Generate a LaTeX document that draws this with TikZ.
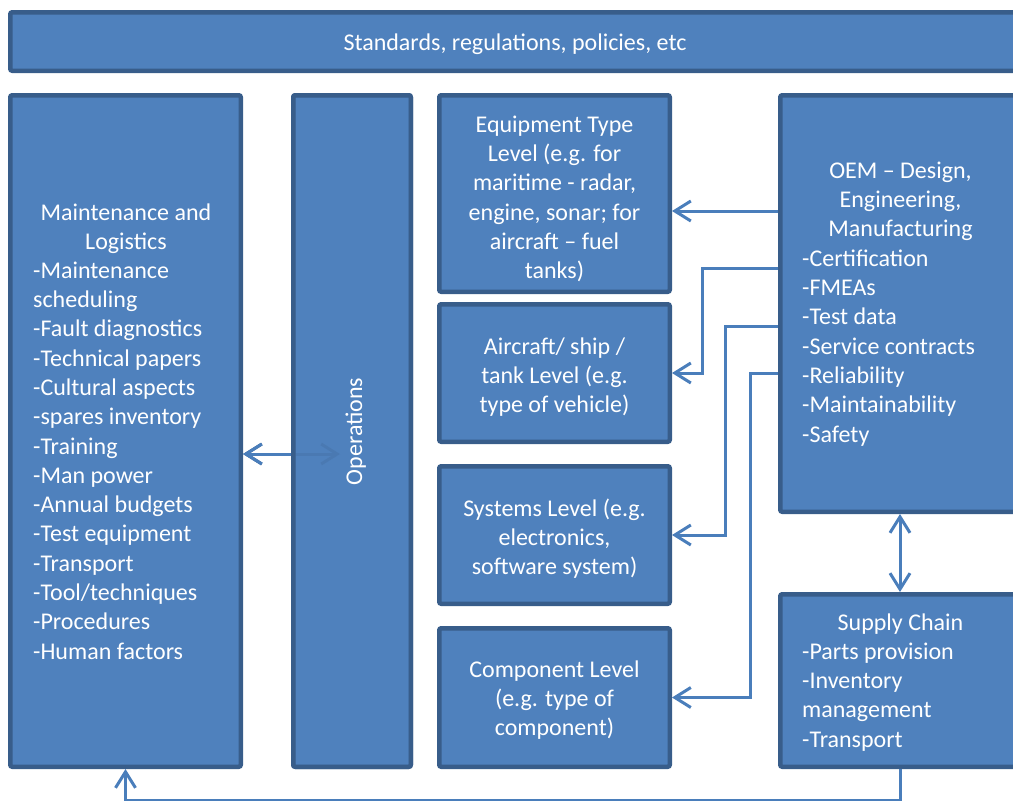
\documentclass[tikz,border=0pt]{standalone}
\usepackage{fontspec}
\setmainfont{Carlito}
\usetikzlibrary{arrows.meta}
\definecolor{boxfill}{HTML}{4F81BD}
\definecolor{boxline}{HTML}{385D8A}
\definecolor{arrowc}{HTML}{4A7EBB}
\begin{document}
\begin{tikzpicture}[x=1pt,y=-1pt,
  box/.style={draw=boxline, fill=boxfill, line width=4.5pt, rounded corners=2pt, inner sep=0pt},
  txt/.style={text=white, inner sep=0pt, font=\fontsize{24}{29.3}\selectfont},
  conn/.style={draw=arrowc, line width=3pt},
  tip/.style={-{Straight Barb[length=16pt,width=20pt]}},
  ltip/.style={{Straight Barb[length=16pt,width=20pt]}-},
  dtip/.style={{Straight Barb[length=16pt,width=20pt]}-{Straight Barb[length=16pt,width=20pt]}}
]
\useasboundingbox (0,0) rectangle (1013,801);

% boxes
\node[box, minimum width=1009.5pt, minimum height=58.5pt] (top) at (515,41.5) {};
\node[box, minimum width=230.5pt, minimum height=671.5pt] (maint) at (125.5,431) {};
\node[box, outer sep=0pt, minimum width=117.5pt, minimum height=671.5pt] (ops) at (352,431) {};
\coordinate (opsin) at (340,454);
\draw[conn, draw=boxline, dtip] (maint.east |- opsin) -- (opsin);
\path[draw=boxline, fill=boxfill, fill opacity=0.8, line width=4.5pt, rounded corners=2pt] (ops.south west) rectangle (ops.north east);
\draw[conn, ltip] (maint.east |- opsin) -- ([xshift=-2.25pt]ops.west |- opsin);
\node[box, minimum width=230.5pt, minimum height=196.5pt] (equip) at (554.5,193.5) {};
\node[box, minimum width=230.5pt, minimum height=137.5pt] (aircraft) at (554.5,373) {};
\node[box, minimum width=230.5pt, minimum height=137.5pt] (systems) at (554.5,535) {};
\node[box, minimum width=230.5pt, minimum height=138.5pt] (component) at (554.5,697.5) {};
\node[box, minimum width=239.5pt, minimum height=416.5pt] (oem) at (900,303.5) {};
\node[box, minimum width=239.5pt, minimum height=172.5pt] (supply) at (900,680.5) {};

% texts
\node[txt, anchor=base] (toptxt) at (515,50) {Standards, regulations, policies, etc};
\node[txt, anchor=north, align=center] (mainthead) at (126,199.5) {\strut Maintenance and\\Logistics};
\node[txt, anchor=north west, align=left] (maintlist) at (33,257.5) {\strut -Maintenance\\scheduling\\-Fault diagnostics\\-Technical papers\\-Cultural aspects\\-spares inventory\\-Training\\-Man power\\-Annual budgets\\-Test equipment\\-Transport\\-Tool/techniques\\-Procedures\\-Human factors};
\node[txt, anchor=base, rotate=90] (opstxt) at (362,431.5) {Operations};
\node[txt, anchor=north, align=center] (equiptxt) at (554.5,111.5) {\strut Equipment Type\\Level (e.g. for\\maritime - radar,\\engine, sonar; for\\aircraft – fuel\\tanks)};
\node[txt, anchor=north, align=center] (aircrafttxt) at (554.5,333.5) {\strut Aircraft/ ship /\\tank Level (e.g.\\type of vehicle)};
\node[txt, anchor=north, align=center] (systemstxt) at (554.5,495.5) {\strut Systems Level (e.g.\\electronics,\\software system)};
\node[txt, anchor=north, align=center] (componenttxt) at (554.5,656.5) {\strut Component Level\\(e.g. type of\\component)};
\node[txt, anchor=north, align=center] (oemhead) at (900.5,157.5) {\strut OEM – Design,\\Engineering,\\Manufacturing};
\node[txt, anchor=north west, align=left] (oemlist) at (802,245.5) {\strut -Certification\\-FMEAs\\-Test data\\-Service contracts\\-Reliability\\-Maintainability\\-Safety};
\node[txt, anchor=base] (supplyhead) at (900.5,630) {Supply Chain};
\node[txt, anchor=north west, align=left] (supplylist) at (802,638.5) {\strut -Parts provision\\-Inventory\\management\\-Transport};

% connectors
\draw[conn, tip] (oem.west |- 0,211) -- (equip.east |- 0,211);
\draw[conn, tip] (oem.west |- 0,268) -- (702,268) |- (aircraft.east);
\draw[conn, tip] (oem.west |- 0,326) -- (725,326) |- (systems.east);
\draw[conn, tip] (oem.west |- 0,373) -- (750,373) |- (component.east);
\draw[conn, dtip] (oem.south) -- (supply.north);
\draw[conn, tip] (supply.south) -- (supply.south |- 0,800.5) -- (maint.south |- 0,800.5) -- (maint.south);
\end{tikzpicture}
\end{document}
